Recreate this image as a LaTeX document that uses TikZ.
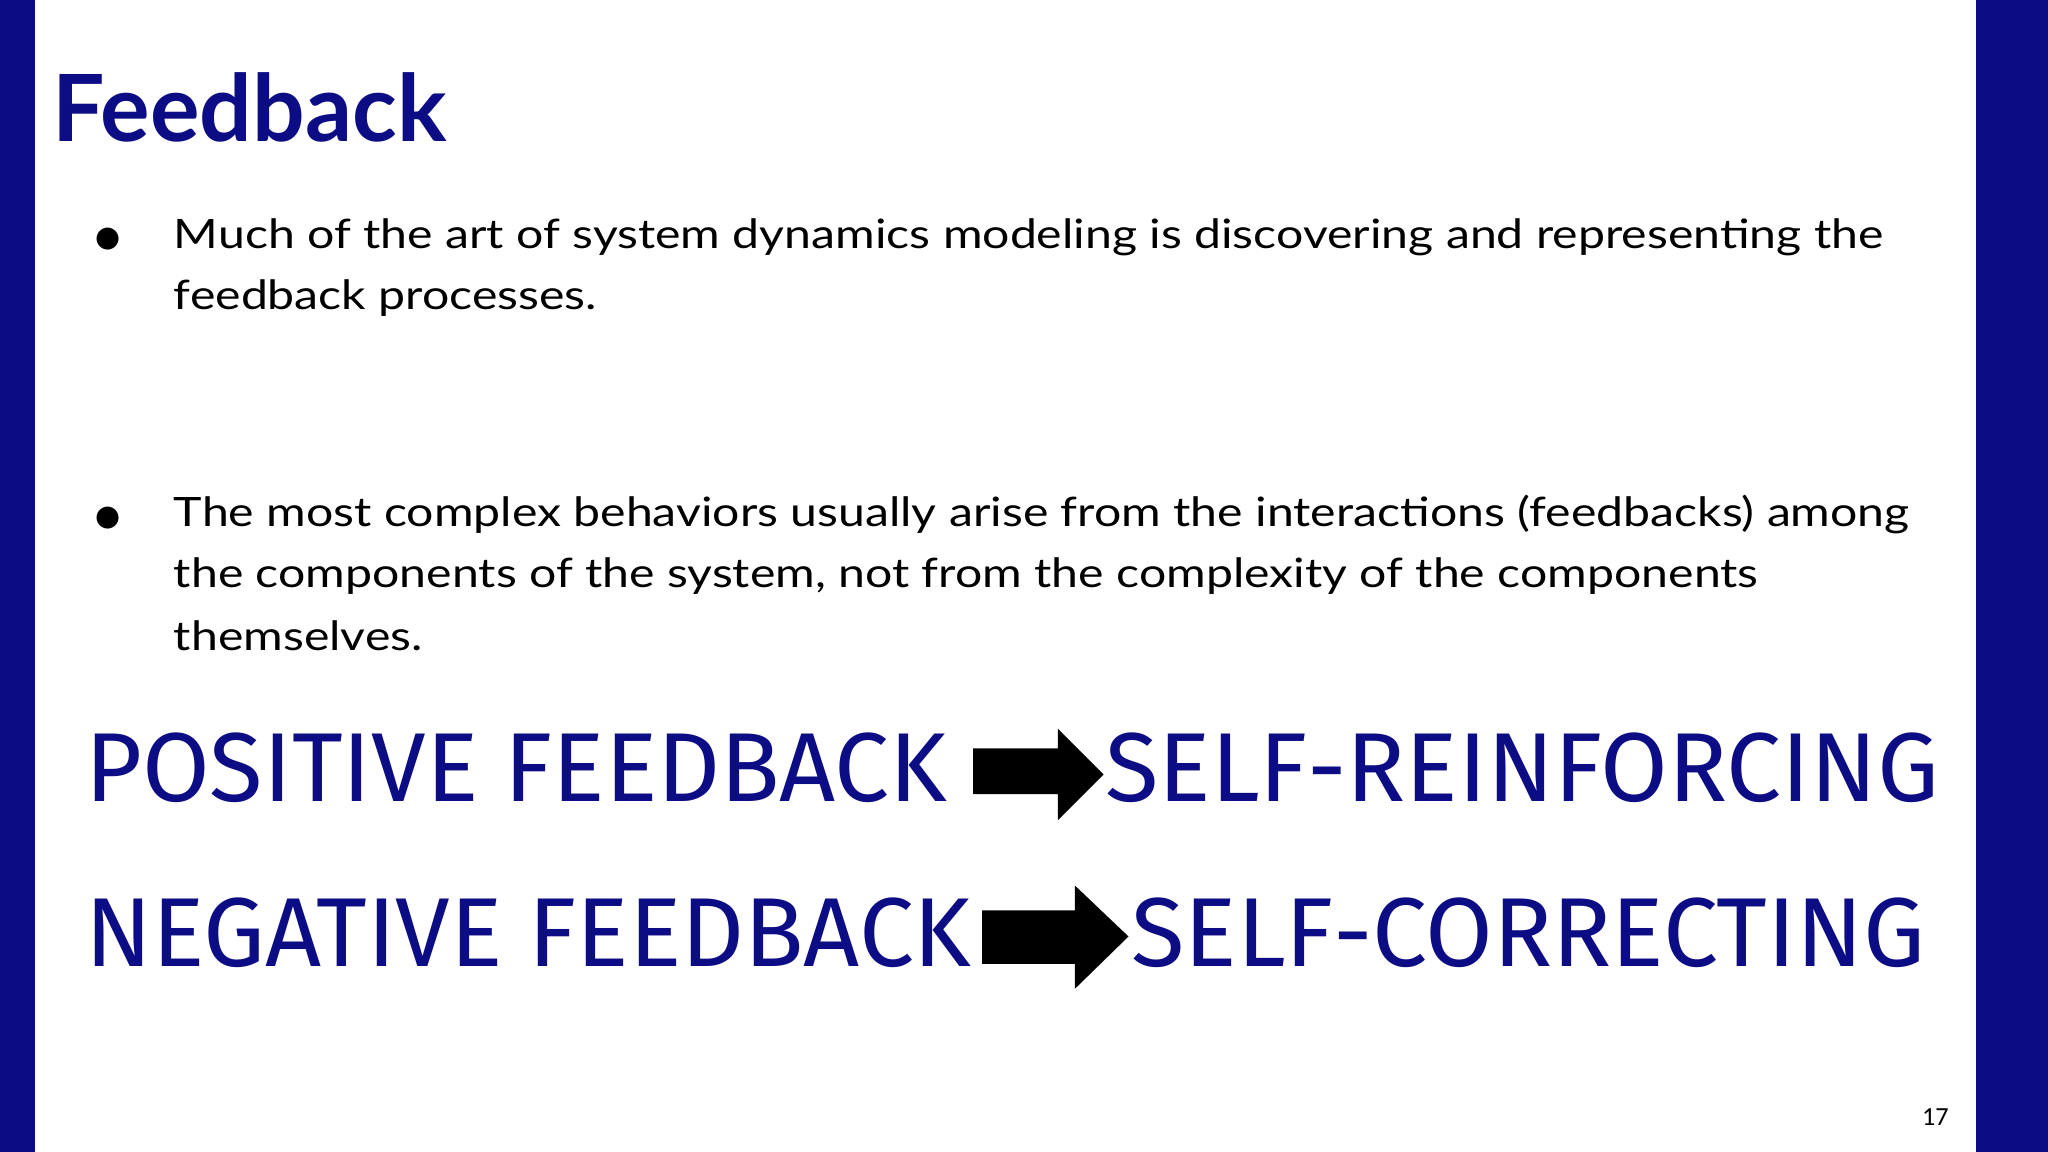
\documentclass[tikz,border=0pt]{standalone}
\usepackage{fontspec}
\setmainfont{Lato}
\newfontfamily\bulf{DejaVu Sans}
\newfontfamily\bigf{Fira Sans}
\newfontfamily\numf{Carlito}
\definecolor{navy}{HTML}{0C0C85}
\newcommand{\wide}[1]{\scalebox{1.19}[1]{#1}}
\begin{document}
\begin{tikzpicture}[x=1pt,y=-1pt,
  body/.style={anchor=base west,inner sep=0,font=\fontsize{31}{37}\selectfont,text=black},
  bul/.style={anchor=base west,inner sep=0,font=\bulf\fontsize{22}{26}\selectfont,text=black},
  big/.style={anchor=base west,inner sep=0,font=\bigf\fontsize{75}{80}\selectfont,text=navy},
  blk/.style={fill=black}]
\useasboundingbox (0,0) rectangle (1568,882);
\fill[white] (0,0) rectangle (1568,882);
\fill[navy] (0,0) rectangle (27,882);
\fill[navy] (1513,0) rectangle (1568,882);
\node[anchor=base west,inner sep=0,font=\fontsize{71}{75}\selectfont\bfseries,text=navy] (title) at (40,108) {Feedback};
\node[bul] (b1) at (73,189) {●};
\node[body] (l1) at (133,190) {\wide{Much of the art of system dynamics modeling is discovering and representing the}};
\node[body] (l2) at (133,237) {\wide{feedback processes.}};
\node[bul] (b2) at (73,402) {●};
\node[body] (l3) at (133,403) {\wide{The most complex behaviors usually arise from the interactions (feedbacks) among}};
\node[body] (l4) at (133,450) {\wide{the components of the system, not from the complexity of the components}};
\node[body] (l5) at (133,498) {\wide{themselves.}};
\node[big] (p1) at (65,614) {POSITIVE FEEDBACK};
\node[big] (p2) at (846,614) {SELF-REINFORCING};
\node[big] (n1) at (65,740) {NEGATIVE FEEDBACK};
\node[big] (n2) at (866,740) {SELF-CORRECTING};
\fill[blk] (745,573) -- (810,573) -- (810,558) -- (845,593) -- (810,628) -- (810,608) -- (745,608) -- cycle;
\fill[blk] (752,697) -- (823,697) -- (823,678) -- (864,717) -- (823,757) -- (823,738) -- (752,738) -- cycle;
\node[anchor=base east,inner sep=0,font=\numf\fontsize{20}{24}\selectfont] (pg) at (1492,862) {17};
\end{tikzpicture}
\end{document}
